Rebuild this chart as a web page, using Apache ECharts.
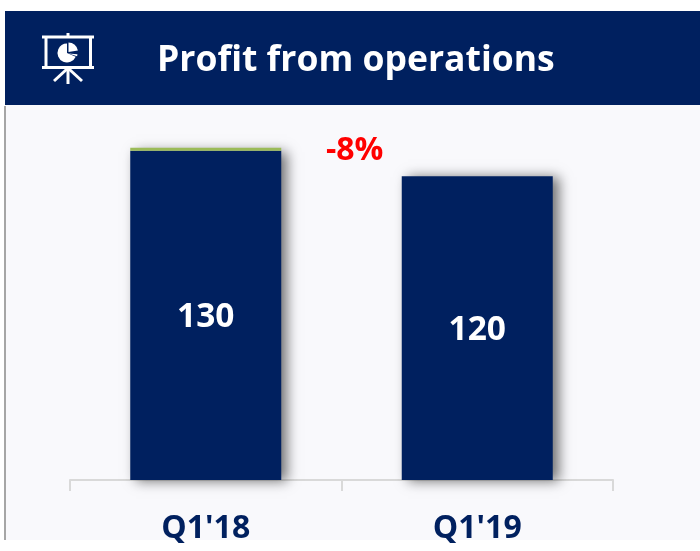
<!DOCTYPE html>
<html>
<head>
<meta charset="utf-8">
<style>
  html,body{margin:0;padding:0;background:#fff;}
  #chart{width:700px;height:551px;}
</style>
<script src="https://cdn.jsdelivr.net/npm/echarts@6/dist/echarts.min.js"></script>
</head>
<body>
<div id="chart"></div>
<script>
const categories = ["Q1'18", "Q1'19"];
const profit = [130, 120];
const otherSliver = [1.2, 0]; // thin green cap on the first bar
const changeLabel = '-8%';
const titleText = 'Profit from operations';

const navy = '#00205f';
const font = '"Open Sans", "Noto Sans", sans-serif';
const iconLine = { stroke: '#fff', lineWidth: 3 };

const myChart = echarts.init(document.getElementById('chart'), null, { renderer: 'canvas' });

myChart.setOption({
  animation: false,
  backgroundColor: '#fff',
  grid: { left: 70, width: 543, top: 125.5, height: 354.5 },
  xAxis: {
    type: 'category',
    data: categories,
    axisLine: { lineStyle: { color: '#d9d9d9', width: 2 } },
    axisTick: { show: true, length: 11, lineStyle: { color: '#d9d9d9', width: 2 } },
    axisLabel: { color: navy, fontFamily: font, fontWeight: 'bold', fontSize: 32, margin: 33 }
  },
  yAxis: { type: 'value', min: 0, max: 140, show: false },
  series: [
    {
      type: 'bar',
      stack: 'total',
      data: profit,
      barWidth: 151,
      itemStyle: { color: navy, shadowColor: 'rgba(0,0,0,0.55)', shadowBlur: 12, shadowOffsetX: 6, shadowOffsetY: 1 },
      label: { show: true, position: 'inside', offset: [0, 2], color: '#fff', fontFamily: font, fontWeight: 'bold', fontSize: 33.5 }
    },
    {
      type: 'bar',
      stack: 'total',
      data: otherSliver,
      barWidth: 151,
      itemStyle: { color: '#9bbb59' }
    }
  ],
  graphic: [
    // panel + header
    { type: 'rect', z: -10, shape: { x: 5, y: 105, width: 695, height: 435 }, style: { fill: '#f9f9fc' } },
    { type: 'rect', z: -9, shape: { x: 4, y: 106, width: 2, height: 434 }, style: { fill: '#a6a6a6' } },
    { type: 'rect', z: -8, shape: { x: 5, y: 11, width: 695, height: 94 }, style: { fill: navy } },
    { type: 'text', z: 5, style: { x: 157, y: 61, text: titleText, fill: '#fff', font: 'bold 35.5px ' + font, verticalAlign: 'middle' } },
    { type: 'text', z: 5, style: { x: 326, y: 151, text: changeLabel, fill: '#ff0000', font: 'bold 32px ' + font, verticalAlign: 'middle' } },
    // presentation icon
    { type: 'group', z: 5, children: [
      { type: 'line', shape: { x1: 68, y1: 33, x2: 68, y2: 37 }, style: iconLine },
      { type: 'line', shape: { x1: 42, y1: 37, x2: 94, y2: 37 }, style: iconLine },
      { type: 'line', shape: { x1: 42, y1: 67.5, x2: 94, y2: 67.5 }, style: iconLine },
      { type: 'line', shape: { x1: 46, y1: 37, x2: 46, y2: 67 }, style: iconLine },
      { type: 'line', shape: { x1: 90.5, y1: 37, x2: 90.5, y2: 67 }, style: iconLine },
      { type: 'line', shape: { x1: 68, y1: 68, x2: 68, y2: 84 }, style: iconLine },
      { type: 'line', shape: { x1: 67, y1: 69, x2: 54, y2: 81 }, style: iconLine },
      { type: 'line', shape: { x1: 69, y1: 69, x2: 82, y2: 81 }, style: iconLine },
      { type: 'sector', shape: { cx: 67, cy: 53, r: 9.5, startAngle: Math.PI * 0.13, endAngle: Math.PI * 1.5, clockwise: true }, style: { fill: '#fff' } },
      { type: 'sector', shape: { cx: 68.5, cy: 52, r: 9.5, startAngle: Math.PI * 1.5, endAngle: Math.PI * 1.95, clockwise: true }, style: { fill: '#fff' } },
      { type: 'sector', shape: { cx: 68.5, cy: 53.5, r: 9, startAngle: Math.PI * 0.03, endAngle: Math.PI * 0.1, clockwise: true }, style: { fill: '#fff' } }
    ] }
  ]
});

window.addEventListener('resize', () => {
  myChart.resize();
});
</script>
</body>
</html>
